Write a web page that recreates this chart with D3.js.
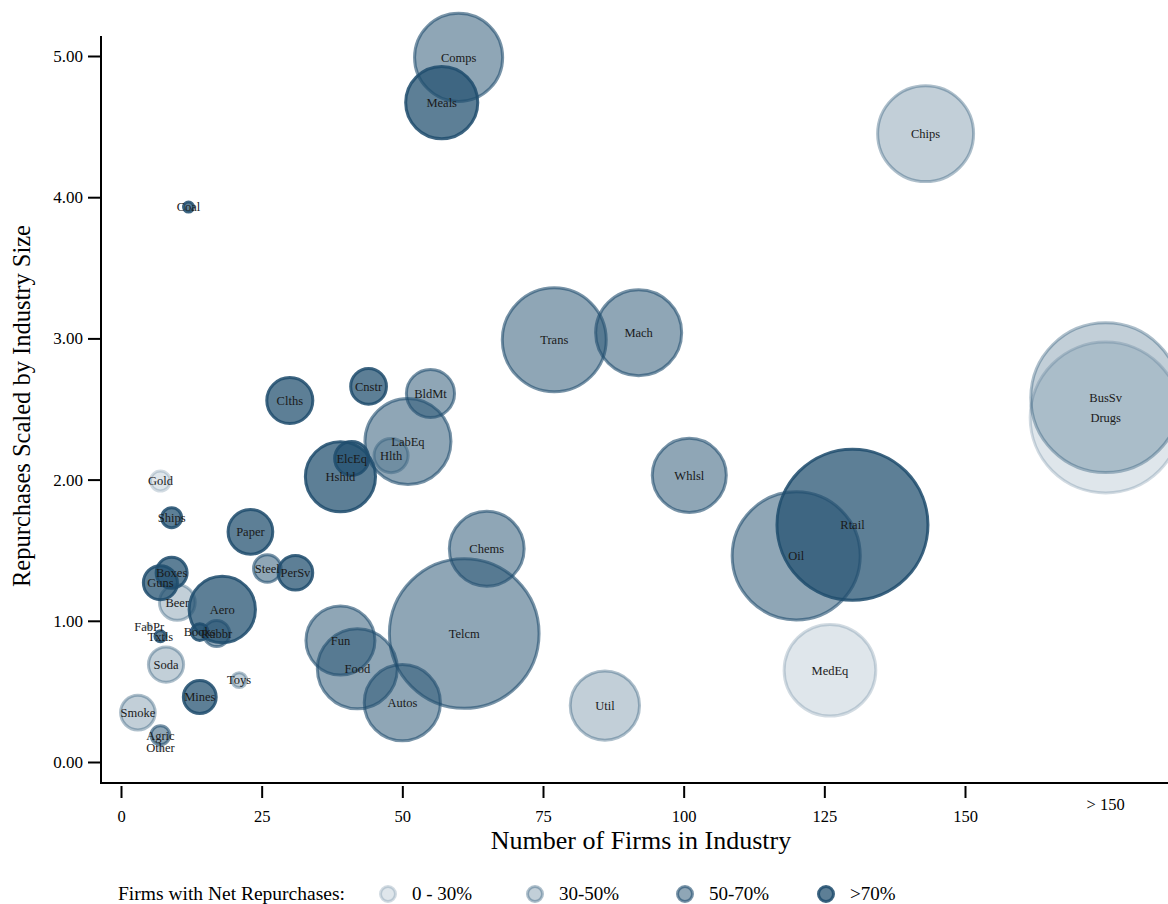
<!DOCTYPE html>
<html>
<head>
<meta charset="utf-8">
<script src="https://cdn.jsdelivr.net/npm/d3@7"></script>
<style>
  body { margin: 0; background: #fff; }
  svg { display: block; font-family: "Liberation Serif", "Times New Roman", serif; }
  svg text { font-family: "Liberation Serif", "Times New Roman", serif; }
</style>
</head>
<body>
<div id="chart"></div>
<script>
// Industry data (x = firms, 175 stands for "> 150")
const industries = ["Telcm", "Drugs", "BusSv", "Rtail", "Oil", "Trans", "Chips", "MedEq", "Comps", "Food",
    "Autos", "Mach", "LabEq", "Chems", "Whlsl", "Meals", "Util", "Hshld", "Fun", "Aero",
    "BldMt", "Clths", "Paper", "Cnstr", "Beer", "Soda", "Smoke", "Guns", "Hlth", "ElcEq",
    "PerSv", "Mines", "Boxes", "Steel", "Rubbr", "Gold", "Ships", "Agric", "Books", "Toys",
    "Txtls", "Coal", "FabPr", "Other"];
const nFirms = [61, 175, 175, 130, 120, 77, 143, 126, 60, 42,
    50, 92, 51, 65, 101, 57, 86, 39, 39, 18,
    55, 30, 23, 44, 10, 8, 3, 7, 48, 41,
    31, 14, 9, 26, 17, 7, 9, 7, 14, 21,
    7, 12, 5, 7];
const repurch = [0.91, 2.44, 2.58, 1.68, 1.46, 2.99, 4.45, 0.65, 4.99, 0.66,
    0.42, 3.04, 2.27, 1.51, 2.03, 4.67, 0.40, 2.02, 0.86, 1.08,
    2.61, 2.56, 1.63, 2.66, 1.13, 0.69, 0.35, 1.27, 2.17, 2.15,
    1.34, 0.46, 1.34, 1.37, 0.91, 1.99, 1.73, 0.19, 0.92, 0.58,
    0.89, 3.93, 0.96, 0.10];
const industrySize = [56, 57, 56, 57, 41, 27, 23, 21, 19.4, 16,
    14.5, 18.5, 18.5, 14, 13.7, 13, 12, 12.3, 11.9, 11,
    5.8, 5.3, 5, 3.2, 3.2, 3.1, 3, 2.9, 2.9, 2.9,
    3, 2.7, 2.4, 1.9, 1.7, 1, 1, 0.9, 0.7, 0.55,
    0.3, 0.25, 0.04, 0.04];
// 0: 0 - 30%, 1: 30-50%, 2: 50-70%, 3: >70%
const shareGroup = [2, 0, 1, 3, 2, 2, 1, 0, 2, 2,
    2, 2, 2, 2, 2, 3, 1, 3, 2, 3,
    2, 3, 3, 3, 1, 1, 1, 3, 1, 3,
    3, 3, 3, 2, 2, 0, 3, 2, 3, 1,
    3, 3, 0, 0];

const groupLabels = ["0 - 30%", "30-50%", "50-70%", ">70%"];
const xTicks = [0, 25, 50, 75, 100, 125, 150];
const yTicks = [0, 1, 2, 3, 4, 5];

const width = 1168, height = 904;
const baseColor = "#1f4d6e";
const fillOp = d3.scaleOrdinal().domain([0, 1, 2, 3]).range([0.14, 0.27, 0.5, 0.72]);
const strokeOp = d3.scaleOrdinal().domain([0, 1, 2, 3]).range([0.2, 0.36, 0.6, 0.86]);

const svg = d3.select("#chart").append("svg")
    .attr("width", width)
    .attr("height", height);

const x = d3.scaleLinear().domain([0, 150]).range([121, 965]);
const y = d3.scaleLinear().domain([0, 5]).range([762, 56]);
const r = d3.scaleSqrt().domain([0, 100]).range([0, 100]);

const data = industries.map((name, i) => ({
    name,
    firms: nFirms[i],
    rep: repurch[i],
    size: industrySize[i],
    grp: shareGroup[i]
}));

// bubbles
svg.append("g").selectAll("circle")
    .data(data)
    .join("circle")
    .attr("cx", d => x(d.firms))
    .attr("cy", d => y(d.rep))
    .attr("r", d => r(d.size))
    .attr("fill", baseColor)
    .attr("fill-opacity", d => fillOp(d.grp))
    .attr("stroke", baseColor)
    .attr("stroke-opacity", d => strokeOp(d.grp))
    .attr("stroke-width", 3);

svg.append("g").selectAll("text")
    .data(data)
    .join("text")
    .attr("x", d => x(d.firms))
    .attr("y", d => y(d.rep))
    .attr("dy", "0.35em")
    .attr("text-anchor", "middle")
    .attr("font-size", "12.5px")
    .attr("fill", "#1a1a1a")
    .text(d => d.name);

// y axis
const yAxis = svg.append("g")
    .attr("transform", "translate(101,0)")
    .call(d3.axisLeft(y).tickValues(yTicks).tickFormat(d3.format(".2f")).tickSize(13).tickPadding(5));
yAxis.attr("font-family", null);
yAxis.select(".domain").remove();
yAxis.append("line")
    .attr("y1", 36).attr("y2", 784)
    .attr("stroke", "#000").attr("stroke-width", 2);
yAxis.selectAll(".tick line").attr("stroke-width", 2);
yAxis.selectAll(".tick text")
    .attr("font-size", "17px")
    .attr("fill", "#000");

// x axis
const xAxis = svg.append("g")
    .attr("transform", "translate(0,786)")
    .call(d3.axisBottom(x).tickValues(xTicks).tickSize(12).tickPadding(12));
xAxis.attr("font-family", null);
xAxis.select(".domain").remove();
xAxis.selectAll(".tick line").attr("stroke-width", 2);
xAxis.selectAll(".tick text")
    .attr("font-size", "16.5px")
    .attr("fill", "#000");
svg.append("line")
    .attr("x1", 100).attr("x2", width)
    .attr("y1", 783).attr("y2", 783)
    .attr("stroke", "#000").attr("stroke-width", 2);
svg.append("text")
    .attr("x", x(175))
    .attr("y", 810)
    .attr("text-anchor", "middle")
    .attr("font-size", "16.5px")
    .text("> 150");

// axis titles
svg.append("text")
    .attr("x", 641)
    .attr("y", 849)
    .attr("text-anchor", "middle")
    .attr("font-size", "26px")
    .text("Number of Firms in Industry");
svg.append("text")
    .attr("transform", "translate(30,406)rotate(-90)")
    .attr("text-anchor", "middle")
    .attr("font-size", "24.5px")
    .text("Repurchases Scaled by Industry Size");

// legend
const legend = svg.append("g").attr("transform", "translate(0,894)");
legend.append("text")
    .attr("x", 118)
    .attr("y", 6)
    .attr("font-size", "19.5px")
    .text("Firms with Net Repurchases:");
const legX = [388, 535, 685, 826];
const items = legend.selectAll("g.item")
    .data(groupLabels)
    .join("g")
    .attr("class", "item")
    .attr("transform", (d, i) => `translate(${legX[i]},0)`);
items.append("circle")
    .attr("r", 7.5)
    .attr("fill", baseColor)
    .attr("fill-opacity", (d, i) => fillOp(i))
    .attr("stroke", baseColor)
    .attr("stroke-opacity", (d, i) => strokeOp(i))
    .attr("stroke-width", 3);
items.append("text")
    .attr("x", 24)
    .attr("y", 6)
    .attr("font-size", "19px")
    .text(d => d);
</script>
</body>
</html>
